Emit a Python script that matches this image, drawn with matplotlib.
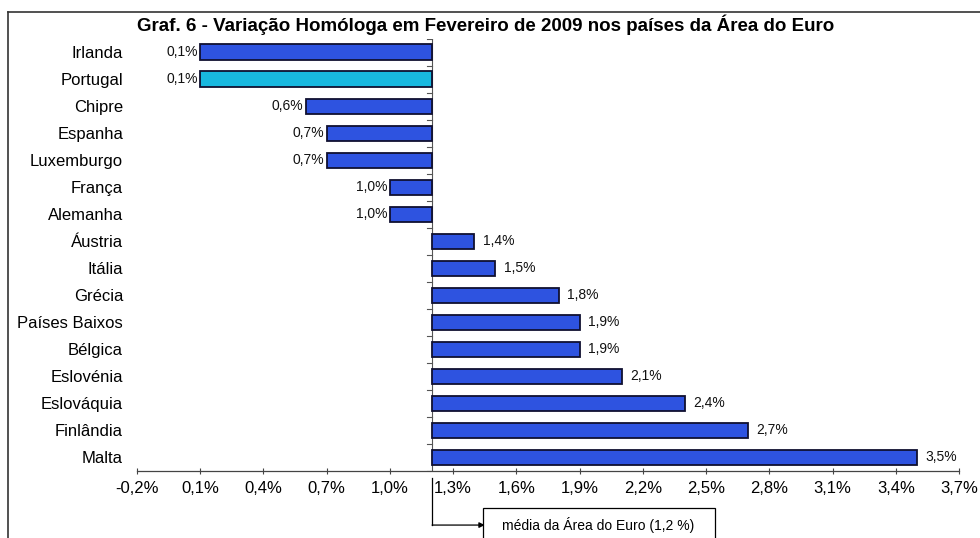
import matplotlib
matplotlib.use("Agg")
import matplotlib.pyplot as plt
from matplotlib.patches import Rectangle
from matplotlib.lines import Line2D
import matplotlib.transforms as mtransforms

plt.rcParams['font.family'] = ['Liberation Sans', 'DejaVu Sans']

countries = ["Irlanda", "Portugal", "Chipre", "Espanha", "Luxemburgo", "França",
             "Alemanha", "Áustria", "Itália", "Grécia", "Países Baixos", "Bélgica",
             "Eslovénia", "Eslováquia", "Finlândia", "Malta"]
values = [0.1, 0.1, 0.6, 0.7, 0.7, 1.0, 1.0, 1.4, 1.5, 1.8, 1.9, 1.9, 2.1, 2.4, 2.7, 3.5]
euro_avg = 1.2
highlight = "Portugal"
xticks = [-0.2, 0.1, 0.4, 0.7, 1.0, 1.3, 1.6, 1.9, 2.2, 2.5, 2.8, 3.1, 3.4, 3.7]
title = "Graf. 6 - Variação Homóloga em Fevereiro de 2009 nos países da Área do Euro"
note = "média da Área do Euro (1,2 %)"

def pct(v):
    return f"{v:.1f}%".replace(".", ",")

fig = plt.figure(figsize=(9.8, 5.38), dpi=100)
ax = fig.add_axes([137/980, 1-471/538, (959-137)/980, (471-38.5)/538])

ypos = list(range(len(countries)))
colors = ['#18B8E0' if c == highlight else '#2E53E0' for c in countries]
widths = [v - euro_avg for v in values]
ax.barh(ypos, widths, left=euro_avg, height=0.56, color=colors,
        edgecolor='#101030', linewidth=1.3, zorder=3)

for y, v in zip(ypos, values):
    if v < euro_avg:
        ax.text(v - 0.01, y, pct(v), ha='right', va='center', fontsize=10, color='#111111')
    else:
        ax.text(v + 0.04, y, pct(v), ha='left', va='center', fontsize=10, color='#111111')

ax.set_xlim(-0.2, 3.7)
ax.set_ylim(len(countries) - 0.5, -0.5)
ax.set_xticks(xticks)
ax.set_xticklabels([pct(t) for t in xticks], fontsize=12)
ax.set_yticks(ypos)
ax.set_yticklabels(countries, fontsize=12)
ax.tick_params(axis='y', length=0, pad=10)
ax.tick_params(axis='x', length=4, width=0.8, color='#444444', direction='inout', pad=5)
for s in ['left', 'top', 'right']:
    ax.spines[s].set_visible(False)
ax.spines['bottom'].set_color('#444444')
ax.spines['bottom'].set_linewidth(0.9)

# category axis crossing at the euro average
ax.axvline(euro_avg, color='#555555', linewidth=0.8, zorder=2)
for k in range(len(countries) + 1):
    yb = k - 0.5
    ax.plot([euro_avg - 0.025, euro_avg], [yb, yb], color='#555555', linewidth=0.8, zorder=2)

# annotation arrow & box
trans = mtransforms.blended_transform_factory(ax.transData, ax.transAxes)
ax.add_line(Line2D([euro_avg, euro_avg], [-0.016, -0.125], transform=trans,
                   color='black', linewidth=0.9, clip_on=False))
ax.annotate("", xy=(1.45, -0.125), xytext=(euro_avg, -0.125), xycoords=trans, textcoords=trans,
            arrowprops=dict(arrowstyle='-|>', color='black', lw=0.9, mutation_scale=8,
                            shrinkA=0, shrinkB=0), annotation_clip=False)
ax.add_patch(Rectangle((1.441, -0.19), 1.101, 0.105, transform=trans, fill=False,
                       edgecolor='black', linewidth=0.9, clip_on=False))
ax.text(1.99, -0.125, note, transform=trans, ha='center', va='center', fontsize=10)

# outer frame
fig.add_artist(Line2D([8/980, 8/980], [0, 1-12/538], transform=fig.transFigure, color='#333333', lw=1.2))
fig.add_artist(Line2D([8/980, 1], [1-12/538, 1-12/538], transform=fig.transFigure, color='#333333', lw=1.2))

fig.text(486/980, 1-25/538, title, ha='center', va='center', fontsize=13.5, fontweight='bold')

fig.savefig("out.png", dpi=100)
